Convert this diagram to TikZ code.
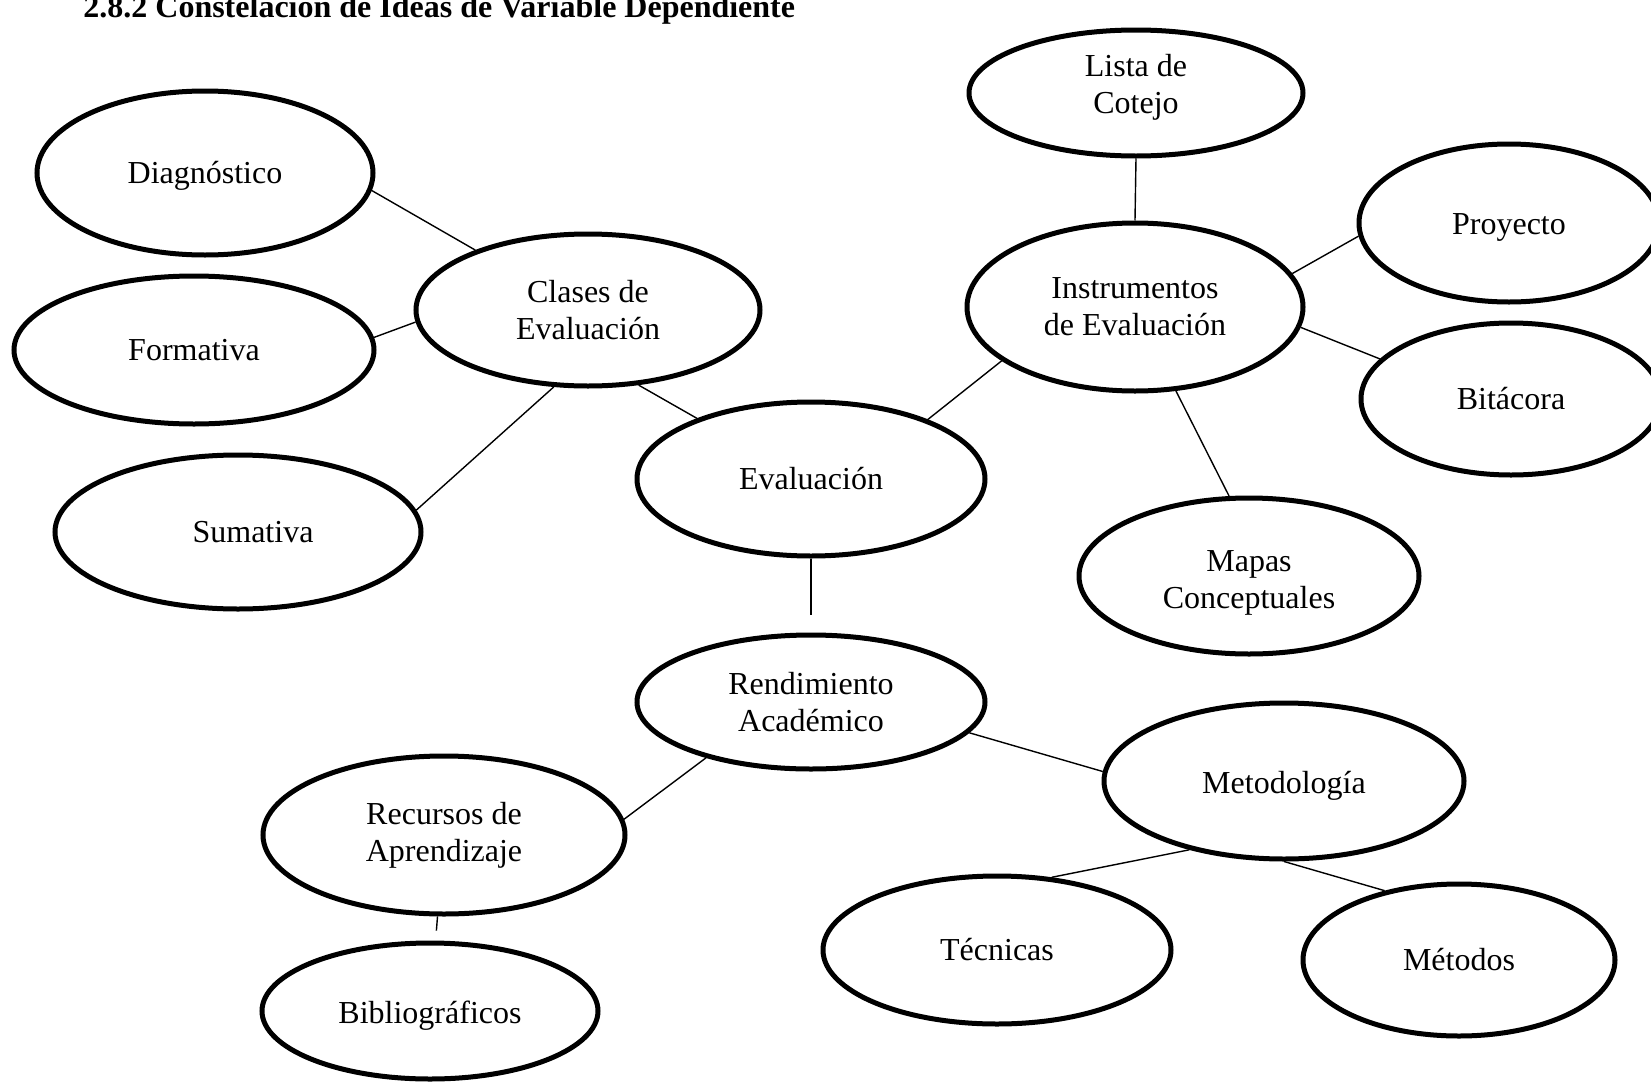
\documentclass[tikz,border=0pt]{standalone}
\usepackage{fontspec}
\setmainfont{Liberation Serif}
\usetikzlibrary{shapes.geometric}
\tikzset{
	elip/.style 2 args={ellipse, draw, line width=2.5pt, inner sep=0pt, align=center,
		minimum width=#1pt, minimum height=#2pt, font=\fontsize{16}{18.5}\selectfont},
	enlace/.style={line width=0.7pt}
}
\begin{document}
\begin{tikzpicture}[x=0.5pt,y=-0.5pt]
			\useasboundingbox (0,0) rectangle (1651,1082);
			\node [anchor=base west,font=\fontsize{16}{19}\selectfont\bfseries,inner sep=0pt] (titulo) at (83,17) {2.8.2 Constelación de Ideas de Variable Dependiente};

			% clases de evaluacion
			\node [elip={168}{82}] (diag) at (205,173) {\rule{0pt}{13.5pt}Diagnóstico};
			\node [elip={180}{74}] (form) at (194,350) {Formativa};
			\node [elip={183}{77}] (sum) at (238,532) {\hspace*{15pt}Sumativa};
			\node [elip={172}{76}] (clases) at (588,310) {Clases de\\Evaluación};

			\node [elip={174}{77}] (eval) at (811,479) {Evaluación};

			% instrumentos
			\node [elip={167}{63}] (lista) at (1136,93) {Lista de\\Cotejo\rule[-9.5pt]{0pt}{0pt}};
			\node [elip={168}{84}] (instr) at (1135,307) {Instrumentos\\de Evaluación};
			\node [elip={150}{79}] (proy) at (1509,223) {\rule{0pt}{15pt}Proyecto};
			\node [elip={150}{76}] (bit) at (1511,399) {Bitácora};
			\node [elip={170}{78}] (mapas) at (1249,576) {\rule{0pt}{17pt}Mapas\\Conceptuales};

			% rendimiento
			\node [elip={174}{67}] (rend) at (811,702) {Rendimiento\\Académico};
			\node [elip={181}{79}] (rec) at (444,835) {Recursos de\\Aprendizaje};
			\node [elip={168}{68}] (bib) at (430,1011) {\rule{0pt}{16pt}Bibliográficos};
			\node [elip={180}{78}] (met) at (1284,781) {\rule{0pt}{16pt}Metodología};
			\node [elip={174}{74}] (tec) at (997,950) {Técnicas};
			\node [elip={156}{76}] (mets) at (1459,960) {Métodos};

			\draw [enlace] (diag.-6) -- (clases.152);
			\draw [enlace] (form.4) -- (clases.184);
			\draw [enlace] (sum.7) -- (clases.-114);
			\draw [enlace] (clases.-56) -- (eval.152);
			\draw [enlace] (eval.27) -- (instr.202);
			\draw [enlace] (lista.south) -- (instr.north);
			\draw [enlace] (instr.12) -- (proy.185);
			\draw [enlace] (instr.-7) -- (bit.163);
			\draw [enlace] (instr.-64) -- (mapas.104);
			\draw [enlace,shorten >=9pt] (eval.south) -- (rend.north);
			\draw [enlace] (rend.208) -- (rec.5);
			\draw [enlace] (rend.-11) -- (met.177);
			\draw [enlace,shorten >=5pt] (rec) -- (bib);
			\draw [enlace] (met.216) -- (tec.53);
			\draw [enlace] (met.south) -- (mets.137);
\end{tikzpicture}
\end{document}
